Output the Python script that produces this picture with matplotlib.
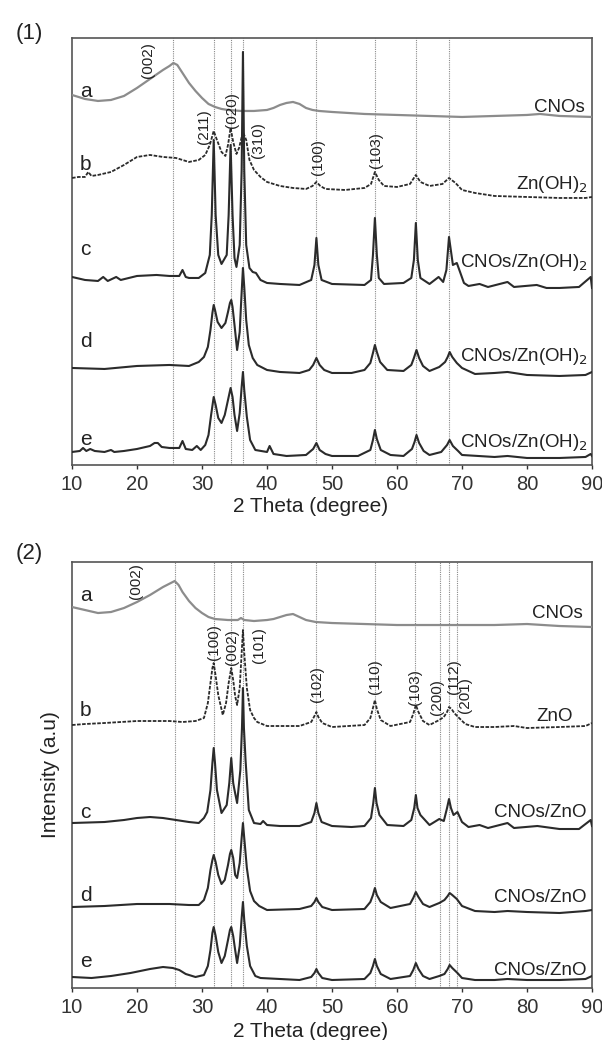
import matplotlib
matplotlib.use('Agg')
import matplotlib.pyplot as plt

plt.rcParams['font.family'] = ['Liberation Sans', 'DejaVu Sans']

# ---------------- panel (1): Zn(OH)2 series ----------------
p1_a_x = [10, 12, 14, 16, 18, 20, 22, 24, 25, 25.6, 26.2, 27, 28, 29, 30, 31, 32, 33, 34, 36,
          38, 40, 41, 42, 43, 44, 45, 46, 47, 48, 50, 55, 60, 65, 70, 75, 80, 82, 85, 90]
p1_a_y = [370, 366, 364, 365, 369, 377, 386, 395, 399, 402, 400, 392, 382, 374, 367, 361, 358, 356, 355, 354,
          354, 355, 357, 360, 362, 363, 361, 357, 355, 354, 353, 351, 350, 349, 348, 349, 350, 351, 349, 348]

p1_b_x = [10, 11, 12, 12.5, 13, 14, 16, 18, 20, 22, 24, 26, 28, 29.5, 30.5, 31.2, 31.8, 32.3, 33.0, 33.6,
          34.0, 34.4, 34.8, 35.3, 35.7, 36.3, 36.8, 37.3, 38, 39, 40, 42, 44, 46, 47, 47.6, 48.2, 49, 52, 55,
          56, 56.6, 57.2, 58, 60, 62, 62.9, 63.6, 65, 67, 68, 69, 70, 72, 75, 80, 85, 89, 90]
p1_b_y = [287, 288, 288, 293, 289, 290, 293, 300, 308, 310, 308, 307, 303, 305, 310, 320, 334, 325, 313, 309,
          320, 337, 323, 311, 317, 333, 325, 305, 295, 288, 283, 279, 277, 276, 279, 283, 279, 276, 275, 277,
          281, 293, 285, 279, 278, 281, 290, 283, 279, 281, 287, 282, 275, 272, 269, 268, 267, 267, 268]

p1_c_x = [10, 12, 14, 14.8, 15.5, 16.8, 17.5, 20, 23, 25, 26.5, 27.0, 27.5, 28, 29.5, 30.5, 31.2, 31.5, 31.8, 32.1,
          32.5, 33.0, 33.8, 34.1, 34.4, 34.7, 35.0, 35.3, 35.8, 36.1, 36.3, 36.5, 36.8, 37.3, 37.8, 38.3, 39, 40, 42, 45,
          46.8, 47.3, 47.6, 47.9, 48.4, 50, 55, 56, 56.3, 56.6, 56.9, 57.2, 58, 61, 62.2, 62.6, 62.9, 63.2, 63.6, 65,
          66.4, 67.1, 67.6, 68.0, 68.6, 69.2, 69.7, 70.3, 71, 72.7, 74, 77, 78, 81.5, 83, 85, 88, 89.8, 90]
p1_c_y = [188, 185, 184, 188, 184, 188, 185, 189, 190, 189, 189, 195, 188, 187, 187, 192, 210, 250, 325, 250,
          210, 201, 210, 250, 320, 250, 207, 198, 220, 295, 413, 295, 220, 197, 193, 192, 185, 182, 181, 180,
          185, 200, 227, 200, 185, 181, 180, 185, 210, 247, 210, 187, 181, 182, 187, 205, 242, 205, 187, 181,
          188, 183, 195, 228, 200, 202, 193, 182, 179, 181, 178, 183, 178, 180, 177, 177, 178, 188, 177]

p1_d_x = [10, 15, 20, 25, 28, 29.5, 30.3, 30.9, 31.3, 31.6, 31.8, 32.0, 32.4, 33.0, 33.6, 34.0, 34.3, 34.5, 34.7, 35.0,
          35.4, 35.8, 36.0, 36.2, 36.3, 36.5, 36.8, 37.2, 37.8, 38.5, 40, 42, 45, 46.5, 47.1, 47.6, 48.1, 48.8, 50, 53,
          55, 55.9, 56.3, 56.6, 56.9, 57.4, 58.5, 61, 62.2, 62.6, 63.0, 63.4, 64.0, 65, 66.5, 67.4, 67.8, 68.1, 68.5, 69.2,
          70, 72, 75, 77, 80, 85, 89, 90]
p1_d_y = [97, 96, 99, 100, 99, 103, 108, 118, 135, 152, 160, 155, 143, 137, 142, 153, 162, 165, 158, 140,
          115, 133, 160, 185, 197, 178, 145, 120, 107, 100, 95, 93, 92, 95, 100, 107, 100, 95, 92, 92,
          95, 102, 112, 120, 113, 103, 95, 94, 100, 107, 115, 107, 99, 94, 98, 103, 108, 113, 108, 102,
          97, 91, 92, 93, 90, 89, 90, 93]

p1_e_x = [10, 11.2, 11.7, 12.2, 12.8, 13.5, 15, 16, 16.5, 18, 20, 22, 22.7, 23.2, 23.8, 25, 26.5, 27.0, 27.5, 28.5,
          29.2, 29.8, 30.5, 31.0, 31.4, 31.8, 32.1, 32.5, 33.0, 33.5, 34.0, 34.4, 34.7, 35.0, 35.4, 35.8, 36.1, 36.3, 36.5, 36.9,
          37.4, 38.2, 40, 40.4, 41, 43, 46, 47.1, 47.6, 48.1, 49, 50, 54, 55.9, 56.3, 56.6, 56.9, 57.5, 59, 61,
          62.3, 62.7, 63.0, 63.4, 64.1, 65, 66.8, 67.7, 68.1, 68.6, 69.4, 70, 75, 77, 80, 85, 89, 89.8, 90]
p1_e_y = [13, 14, 17, 14, 16, 14, 13, 15, 13, 14, 16, 19, 22, 22, 18, 17, 17, 24, 16, 15,
          19, 15, 20, 30, 50, 68, 60, 47, 42, 50, 65, 77, 68, 50, 34, 52, 78, 93, 75, 48,
          25, 15, 13, 19, 11, 9, 10, 16, 22, 15, 11, 9, 9, 15, 25, 35, 26, 15, 10, 9,
          16, 23, 30, 22, 14, 10, 13, 20, 25, 19, 14, 10, 8, 9, 7, 7, 8, 11, 9]

p1_refs = [25.6, 31.8, 34.4, 36.3, 47.6, 56.6, 62.9, 68.0]
p1_hkl = ['(002)', '(211)', '(020)', '(310)', '(100)', '(103)']
p1_hkl_x = [21.7, 30.3, 34.6, 38.6, 47.9, 56.8]
p1_hkl_y = [405, 338, 355, 325, 308, 315]
p1_letters_y = [373, 300, 215, 123, 25]
p1_names = ['CNOs', 'Zn(OH)$_2$', 'CNOs/Zn(OH)$_2$', 'CNOs/Zn(OH)$_2$', 'CNOs/Zn(OH)$_2$']
p1_names_x = [88.9, 89.4, 89.4, 89.4, 89.4]
p1_names_y = [357, 280, 202, 108, 22]

# ---------------- panel (2): ZnO series ----------------
p2_a_x = [10, 12, 14, 16, 18, 20, 22, 24, 25.2, 25.8, 26.4, 27, 28, 29, 30, 31, 32, 34, 35.5, 36,
          36.5, 38, 40, 41, 42, 43, 44, 45, 46, 47.5, 50, 55, 60, 65, 70, 75, 80, 85, 90]
p2_a_y = [381, 378, 375, 376, 380, 386, 393, 401, 405, 407, 403, 396, 387, 380, 375, 371, 369, 368, 368, 370,
          368, 367, 368, 369, 371, 373, 374, 371, 368, 366, 365, 364, 363, 363, 363, 363, 364, 362, 361]

p2_b_x = [10, 12, 15, 20, 25, 27, 29, 30.3, 30.9, 31.3, 31.6, 31.8, 32.1, 32.5, 33.2, 33.7, 34.1, 34.5, 34.8, 35.1,
          35.4, 35.8, 36.1, 36.3, 36.5, 36.9, 37.4, 38.0, 38.5, 40, 45, 46.8, 47.3, 47.6, 47.9, 48.5, 50, 55, 55.9, 56.3,
          56.6, 56.9, 57.5, 59, 62, 62.5, 62.9, 63.3, 64, 65, 66.5, 67.2, 67.7, 68.0, 68.4, 68.8, 69.4, 70.5, 72, 75,
          78, 80, 85, 89, 90]
p2_b_y = [263, 264, 265, 267, 267, 266, 267, 270, 285, 305, 320, 325, 312, 293, 273, 285, 305, 320, 308, 292,
          283, 300, 335, 358, 335, 300, 278, 270, 266, 262, 262, 266, 272, 276, 271, 265, 261, 263, 270, 280,
          288, 279, 268, 262, 266, 274, 283, 276, 267, 263, 268, 271, 276, 281, 279, 275, 271, 264, 261, 261,
          262, 260, 261, 262, 265]

p2_c_x = [10, 15, 18, 20, 22, 24, 26, 28, 29.5, 30.3, 30.8, 31.3, 31.6, 31.8, 32.0, 32.3, 33.0, 33.8, 34.2, 34.5,
          34.8, 35.0, 35.4, 35.9, 36.15, 36.3, 36.45, 36.7, 37.2, 38, 39, 39.4, 40, 42, 45, 46.8, 47.3, 47.6, 47.9, 48.4,
          50, 53, 55, 56, 56.35, 56.6, 56.85, 57.3, 58.5, 61, 62.2, 62.65, 62.9, 63.15, 63.6, 65, 66.5, 67.2, 67.7, 68.0,
          68.3, 68.7, 69.3, 70, 71, 72.7, 74, 77, 78, 81.6, 85, 88, 89.8, 90]
p2_c_y = [165, 166, 168, 170, 171, 170, 168, 166, 165, 170, 176, 198, 225, 240, 225, 198, 175, 183, 205, 230,
          205, 198, 185, 218, 260, 300, 260, 228, 178, 165, 164, 167, 163, 162, 162, 166, 175, 185, 175, 166,
          162, 161, 162, 170, 185, 200, 185, 173, 163, 162, 168, 180, 193, 180, 173, 163, 169, 167, 180, 189,
          180, 173, 176, 166, 161, 163, 160, 165, 160, 162, 159, 159, 168, 162]

p2_d_x = [10, 15, 20, 25, 28, 29.5, 30.3, 30.9, 31.3, 31.6, 31.8, 32.1, 32.5, 33.0, 33.5, 34.0, 34.3, 34.5, 34.8, 35.1,
          35.4, 35.8, 36.1, 36.3, 36.5, 36.9, 37.4, 38.0, 38.8, 40, 45, 46.8, 47.3, 47.6, 47.9, 48.5, 50, 55, 55.9, 56.3,
          56.6, 56.9, 57.5, 59, 62, 62.5, 62.9, 63.3, 64, 65, 66.5, 67.3, 67.8, 68.1, 68.5, 69.2, 70, 72, 75, 77,
          80, 85, 89, 90]
p2_d_y = [81, 82, 84, 84, 83, 83, 88, 100, 118, 128, 133, 126, 113, 104, 108, 123, 134, 138, 130, 113,
          110, 125, 150, 165, 150, 120, 97, 87, 82, 78, 79, 82, 86, 90, 86, 81, 78, 79, 86, 93,
          100, 93, 86, 80, 84, 90, 96, 91, 84, 81, 85, 88, 92, 95, 93, 89, 82, 77, 76, 77,
          76, 75, 77, 78]

p2_e_x = [10, 13, 16, 19, 22, 24, 25.5, 26.5, 27.5, 29, 30.3, 30.9, 31.3, 31.6, 31.8, 32.1, 32.5, 33.0, 33.5, 34.0,
          34.3, 34.5, 34.8, 35.1, 35.4, 35.8, 36.1, 36.3, 36.5, 36.9, 37.4, 38.2, 39, 42, 45, 46.8, 47.3, 47.6, 47.9, 48.5,
          50, 55, 55.9, 56.3, 56.6, 56.9, 57.5, 59, 62, 62.5, 62.9, 63.3, 64, 65, 66.5, 67.3, 67.8, 68.1, 68.5, 69.3,
          70, 72, 75, 77, 80, 85, 89, 90]
p2_e_y = [11, 10, 12, 15, 19, 21, 20, 18, 14, 11, 13, 22, 38, 55, 61, 52, 36, 25, 32, 48,
          58, 61, 52, 38, 25, 42, 70, 86, 68, 42, 22, 12, 10, 9, 8, 11, 15, 19, 15, 10,
          8, 9, 15, 22, 29, 22, 14, 9, 12, 18, 25, 19, 12, 9, 12, 14, 19, 23, 20, 15,
          10, 8, 8, 9, 8, 8, 9, 12]

p2_refs = [25.8, 31.8, 34.5, 36.3, 47.6, 56.6, 62.8, 66.6, 68.0, 69.3]
p2_hkl = ['(002)', '(100)', '(002)', '(101)', '(102)', '(110)', '(103)', '(200)', '(112)', '(201)']
p2_hkl_x = [19.9, 31.8, 34.6, 38.7, 47.7, 56.6, 62.8, 66.1, 68.7, 70.5]
p2_hkl_y = [407, 346, 341, 343, 304, 311, 301, 291, 311, 293]
p2_letters_y = [393, 278, 176, 93, 27]
p2_names = ['CNOs', 'ZnO', 'CNOs/ZnO', 'CNOs/ZnO', 'CNOs/ZnO']
p2_names_x = [88.5, 87.1, 89.1, 89.1, 89.1]
p2_names_y = [375, 272, 176, 91, 18]

letters = ['a', 'b', 'c', 'd', 'e']
xticks = [10, 20, 30, 40, 50, 60, 70, 80, 90]

fig = plt.figure(figsize=(6.02, 10.40), dpi=100)
ax1 = fig.add_axes([0.1196, 0.5529, 0.8638, 0.4106])
ax2 = fig.add_axes([0.1196, 0.0500, 0.8638, 0.4096])

gray = '#8c8c8c'
dark = '#2b2b2b'
txt = '#222222'


def draw_panel(ax, curves, refs, hkl, hkl_x, hkl_y, letters_y, names, names_x, names_y, top):

    for r in refs:
        ax.axvline(r, color='#8a8a8a', lw=0.8, ls=(0, (1, 1)), zorder=1)

    for i, (x, y) in enumerate(curves):
        if i == 0:
            ax.plot(x, y, color=gray, lw=1.6, zorder=3)
        elif i == 1:
            ax.plot(x, y, color=dark, lw=1.3, ls=(0, (2, 0.8)), zorder=3)
        else:
            ax.plot(x, y, color=dark, lw=1.5, zorder=3)

    for lab, xx, yy in zip(hkl, hkl_x, hkl_y):
        ax.text(xx, yy, lab, rotation=90, ha='center', va='center', fontsize=11, color=txt)

    for lab, yy in zip(letters, letters_y):
        ax.text(11.2, yy, lab, ha='left', va='center', fontsize=15, color=txt)

    for lab, xx, yy in zip(names, names_x, names_y):
        ax.text(xx, yy, lab, ha='right', va='center', fontsize=13.5, color=txt)

    ax.set_xlim(10, 90)
    ax.set_ylim(0, top)
    ax.set_xticks(xticks)
    ax.set_yticks([])
    ax.tick_params(axis='x', direction='out', length=3, width=1, labelsize=14.5, pad=4, colors='#333333')
    for s in ax.spines.values():
        s.set_color('#555555')
        s.set_linewidth(1.2)
    ax.set_xlabel('2 Theta (degree)', fontsize=15, color=txt)


draw_panel(ax1,
           [(p1_a_x, p1_a_y), (p1_b_x, p1_b_y), (p1_c_x, p1_c_y), (p1_d_x, p1_d_y), (p1_e_x, p1_e_y)],
           p1_refs, p1_hkl, p1_hkl_x, p1_hkl_y, p1_letters_y, p1_names,
           p1_names_x, p1_names_y, 427)
draw_panel(ax2,
           [(p2_a_x, p2_a_y), (p2_b_x, p2_b_y), (p2_c_x, p2_c_y), (p2_d_x, p2_d_y), (p2_e_x, p2_e_y)],
           p2_refs, p2_hkl, p2_hkl_x, p2_hkl_y, p2_letters_y, p2_names,
           p2_names_x, p2_names_y, 426)

ax1.xaxis.set_label_coords(0.458, -0.075)
ax2.xaxis.set_label_coords(0.458, -0.080)

ax2.text(-0.042, 0.5, 'Intensity (a.u)', transform=ax2.transAxes, rotation=90,
         ha='center', va='center', fontsize=15, color=txt)

fig.text(29 / 602, 1 - 33 / 1040, '(1)', ha='center', va='center', fontsize=16, color=txt)
fig.text(29 / 602, 1 - 553 / 1040, '(2)', ha='center', va='center', fontsize=16, color=txt)

fig.savefig('out.png', dpi=100)
